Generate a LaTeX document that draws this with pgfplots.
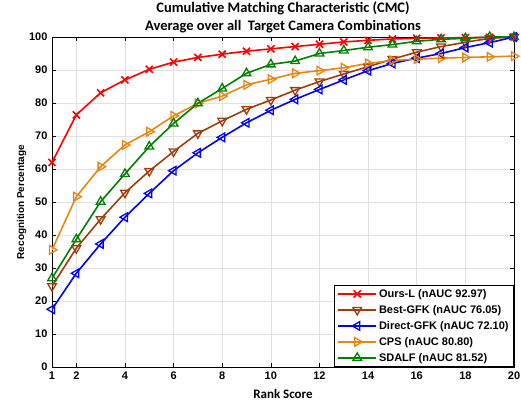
\documentclass[border=0pt]{standalone}
\usepackage{pgfplots}
\pgfplotsset{compat=1.18}
\usepackage{fontspec}
\setmainfont{Liberation Sans}
\newfontfamily\calibri{Carlito}
\definecolor{cRed}{RGB}{255,0,0}
\definecolor{cBrown}{RGB}{160,60,10}
\definecolor{cBlue}{RGB}{0,0,255}
\definecolor{cOrange}{RGB}{230,135,20}
\definecolor{cGreen}{RGB}{0,128,0}
\definecolor{cGrid}{RGB}{225,225,225}
\begin{document}
\begin{tikzpicture}[x=1pt,y=1pt]
\useasboundingbox (-52,-35) rectangle (469,367);
\begin{axis}[
  at={(0,0)}, anchor=south west,
  scale only axis, width=462pt, height=330pt,
  xmin=1, xmax=20, ymin=0, ymax=100,
  xtick={1,2,4,6,8,10,12,14,16,18,20},
  ytick={0,10,...,100},
  grid=major,
  major grid style={cGrid, line width=0.6pt},
  axis line style={black, line width=0.8pt},
  tick align=inside,
  major tick length=4pt,
  tick style={black, line width=0.6pt},
  tick label style={font=\fontsize{11}{12}\selectfont\bfseries},
  /pgf/number format/assume math mode=true,
  xticklabel style={yshift=-1pt},
  yticklabel style={xshift=-1pt},
  xlabel={Rank Score},
  xlabel style={font=\fontsize{13}{14}\selectfont\calibri\bfseries, yshift=-3pt},
  ylabel={Recognition Percentage},
  ylabel style={font=\fontsize{10}{12}\selectfont\bfseries, yshift=-4pt},
  title={Cumulative Matching Characteristic (CMC)\\ Average over all\ \ Target Camera Combinations},
  title style={font=\fontsize{14.5}{18}\selectfont\calibri\bfseries, align=center, yshift=-5pt},
  legend cell align=left,
  legend style={font=\fontsize{11}{12}\selectfont\bfseries, draw=black, line width=0.8pt, inner xsep=3pt, inner ysep=2pt,
    row sep=2.5pt,
    at={(1,0)}, anchor=south east},
  legend image code/.code={\draw[mark repeat=2,mark phase=2,#1] plot coordinates {(0pt,0pt) (19pt,0pt) (38pt,0pt)};},
  every axis plot/.append style={line width=1.6pt},
]
\addplot[cRed, mark=x, mark size=5pt, mark options={line width=1.6pt}] coordinates {
(1,62.0) (2,76.4) (3,83.1) (4,87.0) (5,90.2) (6,92.4) (7,93.8) (8,94.8) (9,95.7) (10,96.4)
(11,97.1) (12,97.8) (13,98.5) (14,99.0) (15,99.4) (16,99.6) (17,99.7) (18,99.8) (19,99.9) (20,100)};
\addlegendentry{Ours-L (nAUC 92.97)}
\addplot[cBrown, mark=triangle, mark size=5pt, mark options={rotate=180, line width=1.3pt, fill=none}] coordinates {
(1,24.5) (2,36.0) (3,44.8) (4,52.8) (5,59.4) (6,65.3) (7,70.8) (8,74.6) (9,78.1) (10,80.9)
(11,83.9) (12,86.5) (13,88.8) (14,91.0) (15,93.3) (16,95.4) (17,97.1) (18,98.4) (19,99.6) (20,100)};
\addlegendentry{Best-GFK (nAUC 76.05)}
\addplot[cBlue, mark=triangle, mark size=5pt, mark options={rotate=90, line width=1.3pt, fill=none}] coordinates {
(1,17.5) (2,28.4) (3,37.3) (4,45.4) (5,52.6) (6,59.5) (7,64.9) (8,69.6) (9,74.0) (10,77.8)
(11,81.1) (12,84.1) (13,87.0) (14,89.8) (15,92.0) (16,93.6) (17,95.0) (18,96.8) (19,98.3) (20,100)};
\addlegendentry{Direct-GFK (nAUC 72.10)}
\addplot[cOrange, mark=triangle, mark size=5pt, mark options={rotate=-90, line width=1.3pt, fill=none}] coordinates {
(1,35.5) (2,51.6) (3,60.7) (4,67.3) (5,71.3) (6,76.1) (7,79.9) (8,82.1) (9,85.5) (10,87.2)
(11,89.0) (12,89.8) (13,90.7) (14,92.0) (15,92.9) (16,93.3) (17,93.6) (18,93.8) (19,94.0) (20,94.2)};
\addlegendentry{CPS (nAUC 80.80)}
\addplot[cGreen, mark=triangle, mark size=5pt, mark options={line width=1.3pt, fill=none}] coordinates {
(1,26.9) (2,38.7) (3,50.1) (4,58.5) (5,66.8) (6,73.8) (7,79.9) (8,84.4) (9,89.0) (10,91.7)
(11,92.7) (12,95.0) (13,95.9) (14,96.9) (15,97.7) (16,98.7) (17,99.3) (18,99.6) (19,100) (20,100)};
\addlegendentry{SDALF (nAUC 81.52)}
\end{axis}
\end{tikzpicture}
\end{document}
